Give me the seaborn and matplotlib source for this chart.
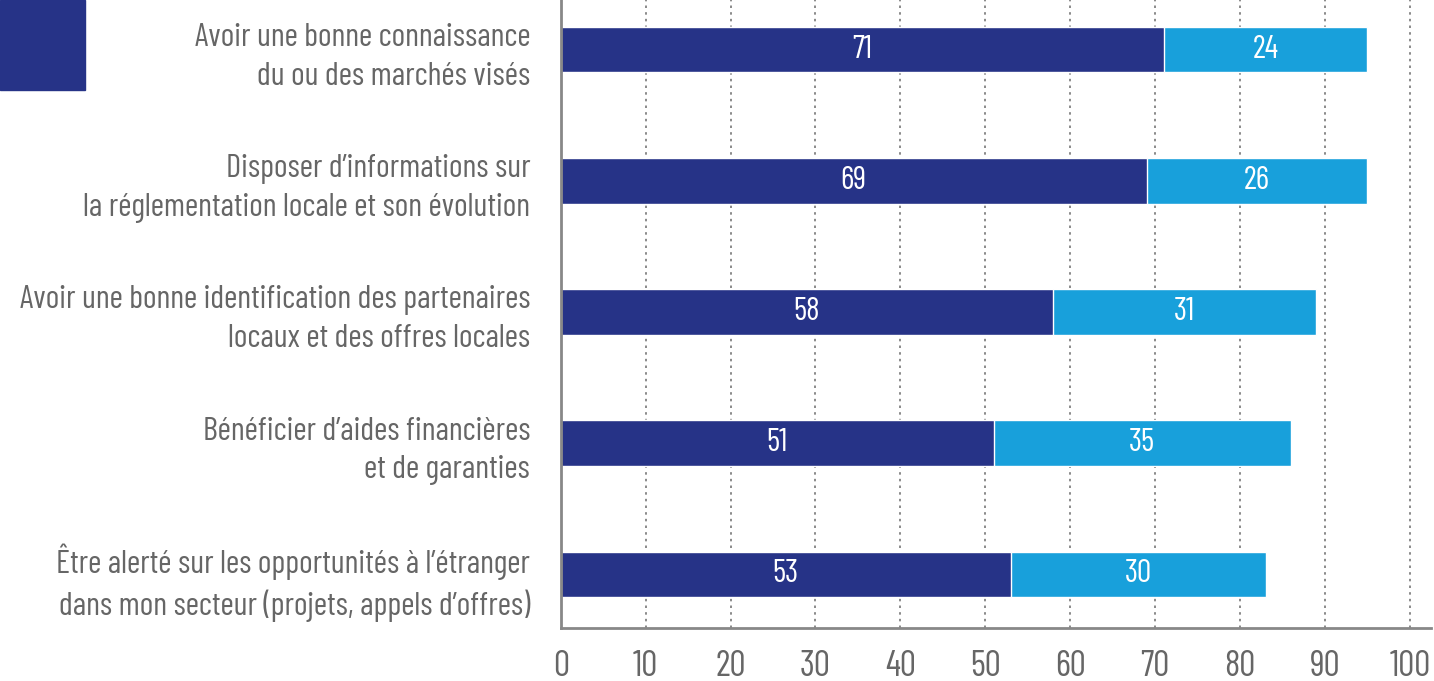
import matplotlib
matplotlib.use("Agg")
import matplotlib.pyplot as plt
import seaborn as sns
import pandas as pd
from matplotlib.patches import Rectangle

# Data
categories = [
    "Avoir une bonne connaissance\ndu ou des marchés visés",
    "Disposer d\u2019informations sur\nla réglementation locale et son évolution",
    "Avoir une bonne identification des partenaires\nlocaux et des offres locales",
    "Bénéficier d\u2019aides financières\net de garanties",
    "Être alerté sur les opportunités à l\u2019étranger\ndans mon secteur (projets, appels d\u2019offres)",
]
dark_values = [71, 69, 58, 51, 53]
light_values = [24, 26, 31, 35, 30]
x_ticks = [0, 10, 20, 30, 40, 50, 60, 70, 80, 90, 100]

DARK = "#263387"
LIGHT = "#18A0DB"
TEXT = "#666666"

sns.set_style("white")
plt.rcParams["font.family"] = ["Barlow Condensed", "DejaVu Sans"]

df = pd.DataFrame({
    "cat": categories,
    "dark": dark_values,
    "light": light_values,
})
df["total"] = df["dark"] + df["light"]

fig = plt.figure(figsize=(14.34, 6.81), dpi=100)
ax = fig.add_axes([0.391, 0.078, 0.607, 0.922])

# stacked: total first (light), dark on top
sns.barplot(data=df, x="total", y="cat", color=LIGHT, width=0.345,
            saturation=1, ax=ax, orient="h")
sns.barplot(data=df, x="dark", y="cat", color=DARK, width=0.345,
            saturation=1, ax=ax, orient="h")

# value labels
for i, row in df.iterrows():
    ax.text(row["dark"] / 2, i, str(row["dark"]), color="white",
            ha="center", va="center", fontsize=23)
    ax.text(row["dark"] + row["light"] / 2, i, str(row["light"]),
            color="white", ha="center", va="center", fontsize=23)

ax.set_xlim(0, 102.5)
ax.set_ylim(4.41, -0.38)
ax.set_xticks(x_ticks)
ax.set_xticklabels([str(t) for t in x_ticks], fontsize=26, color=TEXT)
ax.tick_params(axis="x", length=0, pad=16)
ax.tick_params(axis="y", length=0, pad=22, labelsize=23.4, labelcolor=TEXT)
for lab in ax.get_yticklabels():
    lab.set_linespacing(1.38)

ax.set_xlabel("")
ax.set_ylabel("")

ax.grid(axis="x", linestyle=(0, (1.5, 2.5)), color="#777777", linewidth=1.2)
ax.set_axisbelow(True)

for side in ["top", "right"]:
    ax.spines[side].set_visible(False)
for side in ["left", "bottom"]:
    ax.spines[side].set_color("#888888")
    ax.spines[side].set_linewidth(2)

# cropped legend swatch at top-left
fig.add_artist(Rectangle((0, 1 - 90 / 681), 85 / 1434, 90 / 681,
                         transform=fig.transFigure, color=DARK))

fig.savefig("out.png", dpi=100)
